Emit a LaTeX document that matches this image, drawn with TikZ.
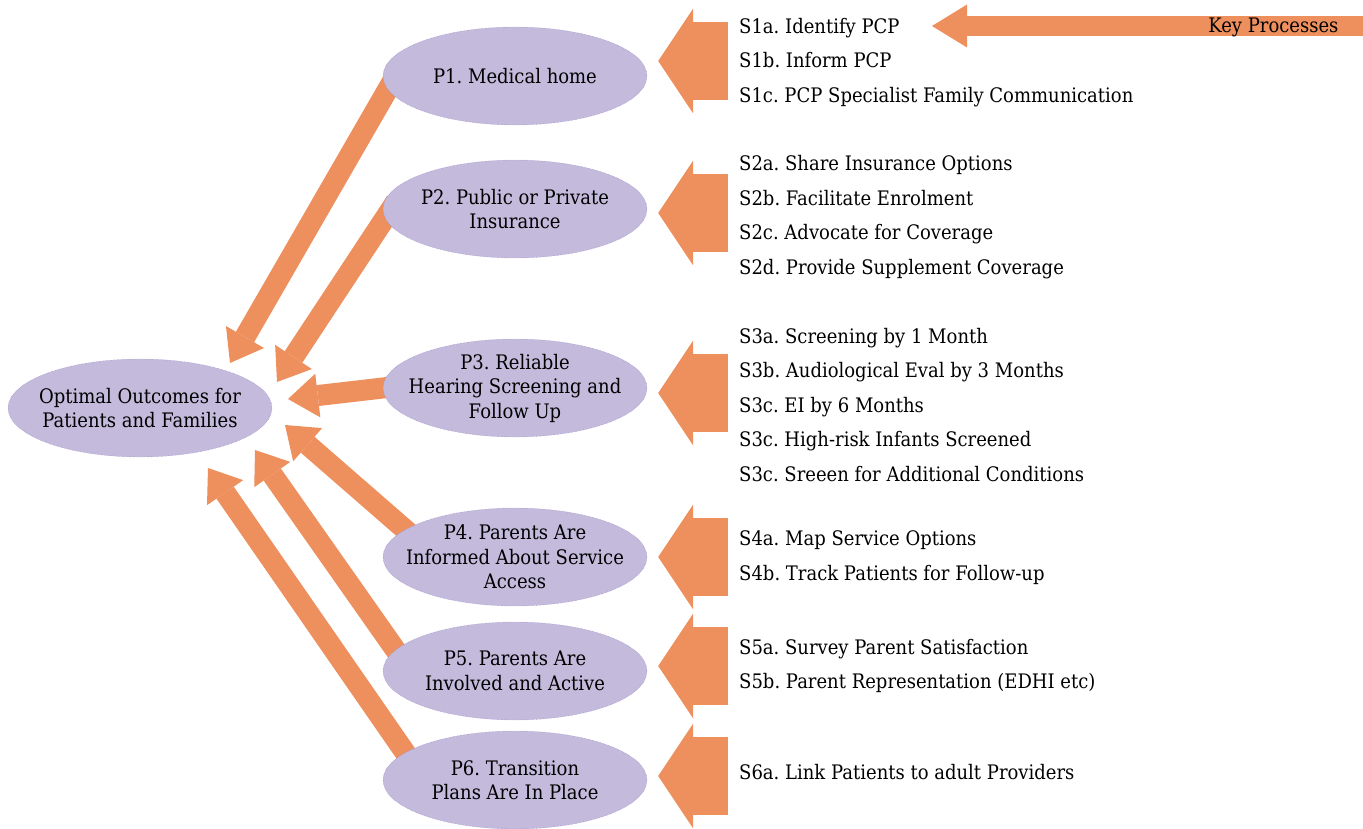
\documentclass[tikz,border=0pt]{standalone}
\usepackage{fontspec}
\setmainfont{DejaVu Serif}[FakeStretch=0.9]
\frenchspacing
\usetikzlibrary{arrows.meta,positioning,backgrounds,shapes.geometric}
\definecolor{keyorange}{RGB}{238,143,94}
\definecolor{lavender}{RGB}{195,186,220}
\definecolor{lavenderline}{RGB}{140,128,190}

\begin{document}
\begin{tikzpicture}[x=1pt,y=-1pt,
  goal node/.style={ellipse,draw=lavenderline,densely dotted,fill=lavender,minimum width=264pt,minimum height=98pt,inner xsep=-25pt,inner ysep=-6pt,align=center,font=\fontsize{20}{24.5}\selectfont},
  practice node/.style={goal node},
  process list/.style={anchor=west,align=left,inner sep=0pt,font=\fontsize{20}{34.5}\selectfont},
  fat arrow/.style={color=keyorange,line width=21pt,-{Triangle[length=30pt,width=44pt,line width=0pt]}},
  block arrow/.style={color=keyorange,line width=78pt,shorten >=11pt,-{Triangle[length=35pt,width=105pt,line width=0pt]}},
  key arrow/.style={color=keyorange,line width=20pt,-{Triangle[length=35pt,width=43pt,line width=0pt]}}]

  \useasboundingbox (0,0) rectangle (1363,829);

  % outcome and practices
  \node[goal node] (O) at (140,408) {Optimal Outcomes for\\Patients and Families};
  \node[practice node] (P1) at (515,76) {P1. Medical home};
  \node[practice node] (P2) at (515,209) {P2. Public or Private\\Insurance};
  \node[practice node] (P3) at (515,388) {P3. Reliable\\Hearing Screening and\\Follow Up};
  \node[practice node] (P4) at (515,557) {P4. Parents Are\\Informed About Service\\Access};
  \node[practice node] (P5) at (515,671) {P5. Parents Are\\Involved and Active};
  \node[practice node] (P6) at (515,780) {P6. Transition\\Plans Are In Place};

  % arrow tips near the outcome
  \coordinate (t1) at (230,363);
  \coordinate (t2) at (277,382);
  \coordinate (t3) at (288,399);
  \coordinate (t4) at (285,425);
  \coordinate (t5) at (255,450);
  \coordinate (t6) at (208,468);

  \begin{pgfonlayer}{background}
    \path[fat arrow,shorten <=-20pt]
      (P1.186) edge (t1)
      (P2.184) edge (t2)
      (P3.west) edge (t3)
      (P4.166) edge (t4)
      (P5.170) edge (t5)
      (P6.166) edge (t6);
  \end{pgfonlayer}

  % key processes
  \coordinate (s1) at (728,61);
  \coordinate (s2) at (728,213);
  \coordinate (s3) at (728,393);
  \coordinate (s4) at (728,557);
  \coordinate (s5) at (728,666);
  \coordinate (s6) at (728,776);

  \path[block arrow]
    (s1) edge (s1 -| P1.east)
    (s2) edge (s2 -| P2.east)
    (s3) edge (s3 -| P3.east)
    (s4) edge (s4 -| P4.east)
    (s5) edge (s5 -| P5.east)
    (s6) edge (s6 -| P6.east);

  \node[process list] (L1) at (739,62.5) {S1a. Identify PCP\\S1b. Inform PCP\\S1c. PCP Specialist Family Communication};
  \node[process list] (L2) at (739,217) {S2a. Share Insurance Options\\S2b. Facilitate Enrolment\\S2c. Advocate for Coverage\\S2d. Provide Supplement Coverage};
  \node[process list] (L3) at (739,405) {S3a. Screening by 1 Month\\S3b. Audiological Eval by 3 Months\\S3c. EI by 6 Months\\S3c. High-risk Infants Screened\\S3c. Sreeen for Additional Conditions};
  \node[process list] (L4) at (739,557.5) {S4a. Map Service Options\\S4b. Track Patients for Follow-up};
  \node[process list] (L5) at (739,666) {S5a. Survey Parent Satisfaction\\S5b. Parent Representation (EDHI etc)};
  \node[process list] (L6) at (739,772) {S6a. Link Patients to adult Providers};

  \coordinate (kp) at (1363,26);
  \coordinate (kt) at (932,26);
  \draw[key arrow] (kp) -- (kt);
  \node[anchor=east,font=\fontsize{20}{24.5}\selectfont] (key) at (1342,27) {Key Processes};
\end{tikzpicture}
\end{document}
